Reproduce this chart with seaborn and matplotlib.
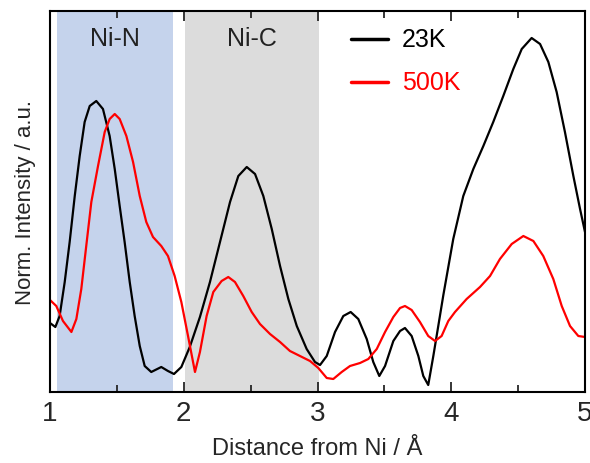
import numpy as np
import pandas as pd
import matplotlib
matplotlib.use("Agg")
import matplotlib.pyplot as plt
import seaborn as sns
from matplotlib.ticker import MultipleLocator

# ---- data ----
x_23k = [1.000, 1.040, 1.072, 1.110, 1.147, 1.185, 1.222, 1.259, 1.297, 1.346, 1.396,
         1.446, 1.484, 1.521, 1.558, 1.596, 1.633, 1.671, 1.708, 1.757, 1.832, 1.882,
         1.927, 1.982, 2.045, 2.121, 2.196, 2.271, 2.346, 2.408, 2.471, 2.533, 2.595,
         2.658, 2.720, 2.782, 2.845, 2.919, 2.981, 3.019, 3.069, 3.131, 3.193, 3.248,
         3.305, 3.368, 3.417, 3.462, 3.505, 3.567, 3.617, 3.654, 3.704, 3.754, 3.791,
         3.828, 3.866, 3.903, 3.941, 4.015, 4.090, 4.165, 4.240, 4.314, 4.389, 4.464,
         4.527, 4.601, 4.664, 4.726, 4.788, 4.850, 4.913, 4.963, 5.000]
y_23k = [69, 65, 76, 110, 150, 196, 236, 270, 286, 291, 283,
         256, 223, 186, 150, 110, 76, 46, 26, 20, 25, 21,
         18, 25, 45, 75, 110, 150, 190, 216, 225, 218, 196,
         163, 126, 93, 66, 43, 30, 27, 36, 60, 76, 80,
         73, 53, 30, 16, 26, 51, 61, 64, 56, 36, 16,
         7, 36, 66, 97, 153, 196, 223, 246, 270, 296, 323,
         343, 354, 348, 330, 300, 260, 216, 183, 160]

x_500k = [1.000, 1.047, 1.097, 1.160, 1.197, 1.234, 1.271, 1.309, 1.359, 1.409, 1.446,
          1.484, 1.521, 1.571, 1.621, 1.671, 1.720, 1.770, 1.832, 1.882, 1.932, 1.982,
          2.032, 2.084, 2.121, 2.171, 2.221, 2.283, 2.333, 2.383, 2.445, 2.508, 2.570,
          2.645, 2.720, 2.794, 2.869, 2.944, 3.006, 3.069, 3.118, 3.181, 3.243, 3.318,
          3.380, 3.443, 3.505, 3.567, 3.617, 3.654, 3.704, 3.766, 3.828, 3.879, 3.928,
          3.978, 4.028, 4.115, 4.215, 4.290, 4.364, 4.452, 4.539, 4.614, 4.688, 4.763,
          4.826, 4.888, 4.950, 5.000]
y_500k = [92, 86, 71, 60, 73, 103, 146, 190, 226, 260, 273,
          278, 273, 256, 230, 196, 170, 155, 146, 136, 116, 90,
          56, 20, 40, 76, 100, 111, 115, 110, 96, 80, 68,
          58, 50, 41, 36, 31, 24, 14, 13, 20, 26, 29,
          33, 43, 60, 75, 84, 86, 82, 70, 56, 51, 56,
          71, 80, 93, 105, 116, 133, 148, 156, 151, 136, 113,
          86, 66, 56, 55]

regions = [(1.055, 1.92, "Ni-N", "#c5d3ec"), (2.01, 3.01, "Ni-C", "#dcdcdc")]
series_names = ["23K", "500K"]
series_colors = ["black", "red"]

df = pd.concat([
    pd.DataFrame({"x": x_23k, "y": y_23k, "T": "23K"}),
    pd.DataFrame({"x": x_500k, "y": y_500k, "T": "500K"}),
], ignore_index=True)

sns.set_theme(style="ticks")
plt.rcParams["font.family"] = ["Liberation Sans", "DejaVu Sans"]

fig = plt.figure(figsize=(5.9, 4.64), dpi=100)
ax = fig.add_axes([50/590, 71/464, 535/590, 381/464])

for x0, x1, lab, col in regions:
    ax.axvspan(x0, x1, color=col, lw=0, zorder=0)
    ax.text((x0 + x1) / 2, 354, lab, ha="center", va="center", fontsize=18, color="#222222")

sns.lineplot(data=df, x="x", y="y", hue="T", hue_order=series_names,
             palette=series_colors, sort=False, estimator=None, linewidth=1.6,
             ax=ax, legend=False)

# legend drawn manually in data space
for i, (name, col) in enumerate(zip(series_names, series_colors)):
    yy = 353 - i * 43
    ax.plot([3.25, 3.53], [yy, yy], color=col, lw=2.5)
    ax.text(3.63, yy, name, color=col, fontsize=18, va="center", ha="left")

ax.set_xlim(1, 5)
ax.set_ylim(0, 381)
ax.xaxis.set_major_locator(MultipleLocator(1))
ax.xaxis.set_minor_locator(MultipleLocator(0.5))
ax.set_yticks([])
ax.tick_params(axis="x", which="both", direction="in", top=True, bottom=True,
               labelsize=20, width=1.3, pad=6)
ax.tick_params(axis="x", which="major", length=7)
ax.tick_params(axis="x", which="minor", length=5)
for s in ax.spines.values():
    s.set_linewidth(1.5)
    s.set_color("black")

ax.set_xlabel("Distance from Ni / Å", fontsize=17, labelpad=8)
ax.set_ylabel("Norm. Intensity / a.u.", fontsize=16, labelpad=10)

fig.savefig("out.png", dpi=100)
